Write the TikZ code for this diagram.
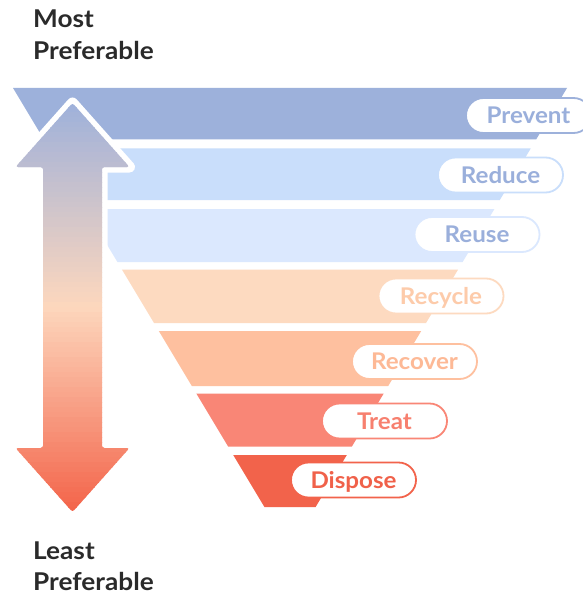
\documentclass[tikz,border=0pt]{standalone}
\usepackage{fontspec}
\setmainfont{Lato}[FakeStretch=1.05]
\newfontfamily\headfont{Lato}[FakeStretch=1.07]
\definecolor{bA}{HTML}{9DB1DB}
\definecolor{bB}{HTML}{C9DEFB}
\definecolor{bC}{HTML}{DBE8FE}
\definecolor{bD}{HTML}{FDDAC0}
\definecolor{bE}{HTML}{FEC09F}
\definecolor{bF}{HTML}{F98676}
\definecolor{bG}{HTML}{F2634B}
\definecolor{tBlue}{HTML}{9AAFDB}
\definecolor{tD}{HTML}{FDCBAA}
\definecolor{tE}{HTML}{FDB996}
\definecolor{tF}{HTML}{F7806F}
\definecolor{tG}{HTML}{F0614A}
\definecolor{gTop}{HTML}{9FB1DA}
\definecolor{gMid}{HTML}{FDD7BD}
\definecolor{gBot}{HTML}{F3654B}
\definecolor{ink}{HTML}{2A2A2A}
\tikzset{
  pill/.style={draw, fill=white, line width=1.8pt, rounded corners=17.5pt,
    minimum width=125pt, minimum height=35pt, inner sep=0pt,
    font=\fontsize{23}{23}\selectfont\bfseries, text height=16pt, text depth=0pt},
  head/.style={font=\headfont\fontsize{24.5}{24.5}\selectfont\bfseries, text=ink, anchor=base west, inner sep=0pt}
}
\newcommand{\band}[3]{% top, bottom, color
  \fill[#3] ({13+0.6*(#1-88)},#1) -- ({567-0.6*(#1-88)},#1) -- ({567-0.6*(#2-88)},#2) -- ({13+0.6*(#2-88)},#2) -- cycle;}
\begin{document}
\begin{tikzpicture}[x=1pt,y=-1pt]
\useasboundingbox[fill=white] (0,0) rectangle (582,596);
% bands
\band{88}{139.5}{bA}
\band{148.5}{200}{bB}
\band{209}{262}{bC}
\band{269.5}{323}{bD}
\band{331}{386}{bE}
\band{393.5}{446.5}{bF}
\band{455}{507}{bG}
% arrow
\def\arrowpath{(72.5,103) -- (129.5,167) -- (102,167) -- (102,448) -- (129.5,448) -- (72.5,512) -- (15.5,448) -- (43,448) -- (43,167) -- (15.5,167) -- cycle}
\draw[white, line width=11pt, line join=round] \arrowpath;
\begin{scope}
\clip[rounded corners=2.5pt] \arrowpath;
\foreach \i in {0,...,81}{
  \pgfmathsetmacro\yy{102+5*\i}
  \pgfmathtruncatemacro\pp{round(200*\i/81)}
  \ifnum\pp>100
    \pgfmathtruncatemacro\qq{\pp-100}
    \fill[gBot!\qq!gMid] (10,\yy) rectangle (135,\yy+5.8);
  \else
    \fill[gMid!\pp!gTop] (10,\yy) rectangle (135,\yy+5.8);
  \fi
}
\end{scope}
% pills
\node[pill, draw=bA, text=tBlue] (prevent) at (528.5,115.5) {Prevent};
\node[pill, draw=bB, text=tBlue] (reduce) at (500.5,175) {Reduce};
\node[pill, draw=bC, text=tBlue] (reuse) at (477,234.5) {Reuse};
\node[pill, draw=bD, text=tD] (recycle) at (441,296) {Recycle};
\node[pill, draw=bE, text=tE] (recover) at (414.5,361.5) {Recover};
\node[pill, draw=bF, text=tF] (treat) at (384.5,421) {Treat};
\node[pill, draw=bG, text=tG] (dispose) at (353.5,480) {Dispose};
% headings
\node[head] (most) at (33,28) {Most};
\node[head] (mostp) at (33,60) {Preferable};
\node[head] (least) at (33,559) {Least};
\node[head] (leastp) at (33,590) {Preferable};
\end{tikzpicture}
\end{document}
